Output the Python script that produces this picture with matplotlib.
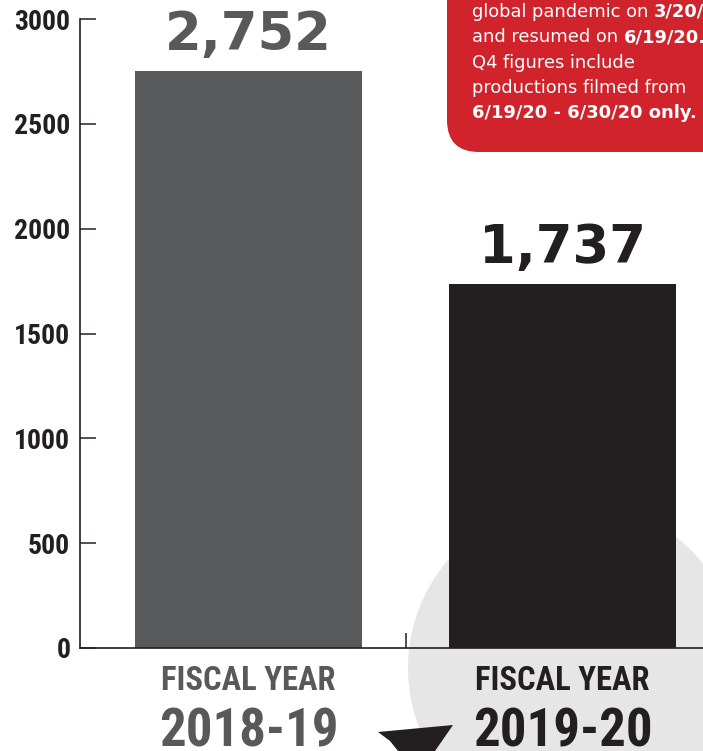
import matplotlib.pyplot as plt
from matplotlib.patches import Circle, FancyBboxPatch, Polygon

# production counts per fiscal year
years = ["2018-19", "2019-20"]
productions = [2752, 1737]
bar_colors = ["#58595b", "#231f20"]
y_ticks = [0, 500, 1000, 1500, 2000, 2500, 3000]

# note in the red box: (text, weight) pieces for each line
note_lines = [
    [("global pandemic on ", "normal"), ("3/20/20", "bold")],
    [("and resumed on ", "normal"), ("6/19/20.", "bold")],
    [("Q4 figures include", "normal")],
    [("productions filmed from", "normal")],
    [("6/19/20 - 6/30/20 only.", "bold")],
]

dark = "#231f20"
narrow = ["Liberation Sans Narrow", "Roboto Condensed", "DejaVu Sans"]

fig = plt.figure(figsize=(7.03, 7.51), dpi=100)

# background layer in pixel units (origin top-left)
bg = fig.add_axes([0, 0, 1, 1], zorder=0)
bg.set_xlim(0, 703)
bg.set_ylim(751, 0)
bg.axis("off")

bg.add_patch(Circle((574, 668), 166, color="#e6e6e6", lw=0))
bg.add_patch(FancyBboxPatch((447, -60), 320, 212,
                            boxstyle="round,pad=0,rounding_size=32",
                            fc="#d0232b", ec="none"))
bg.add_patch(Polygon([(378, 732), (453, 725), (435, 751), (398, 751), (390, 741)],
                     closed=True, fc=dark, ec="none", zorder=3))

# note text, bold parts placed right after the regular parts
renderer = fig.canvas.get_renderer()
for i, line in enumerate(note_lines):
    x = 472
    y = 17 + i * 25.3
    for txt, weight in line:
        t = bg.text(x, y, txt, color="white", fontsize=12.9, fontweight=weight,
                    family="DejaVu Sans", va="baseline", ha="left")
        x = t.get_window_extent(renderer).x1

# main bar chart
ax = fig.add_axes([80 / 703, 103 / 751, 623 / 703, 629 / 751], zorder=1)
ax.patch.set_alpha(0)
x_pos = list(range(len(years)))
ax.bar(x_pos, productions, width=0.723, color=bar_colors, zorder=2)

ax.set_xlim(-0.537, 1.447)
ax.set_ylim(0, 3000)
ax.spines["top"].set_visible(False)
ax.spines["right"].set_visible(False)
for s in ["left", "bottom"]:
    ax.spines[s].set_color(dark)
    ax.spines[s].set_linewidth(1.2)
    ax.spines[s].set_zorder(3)

ax.set_yticks(y_ticks)
ax.set_yticklabels([str(v) for v in y_ticks], family=narrow,
                   fontweight="bold", fontsize=20, color=dark)
ax.tick_params(axis="y", direction="in", length=11.5, width=1.1,
               color=dark, pad=7)
ax.set_xticks([0.5])
ax.set_xticklabels([""])
ax.tick_params(axis="x", direction="in", length=11, width=1.1, color=dark)

# value labels above the bars
for i, v in enumerate(productions):
    ax.annotate(f"{v:,}", (x_pos[i], v), xytext=(0, 15), textcoords="offset points",
                ha="center", va="baseline", fontsize=38, fontweight="bold",
                color=bar_colors[i], family="DejaVu Sans")

# category labels under the axis
tr = ax.get_xaxis_transform()
for i, yr in enumerate(years):
    ax.text(x_pos[i], -0.0668, "FISCAL YEAR", transform=tr, ha="center",
            va="baseline", fontsize=23.5, fontweight="bold", family=narrow,
            color=bar_colors[i])
    ax.text(x_pos[i], -0.1560, yr, transform=tr, ha="center", va="baseline",
            fontsize=38, fontweight="bold", family=narrow, color=bar_colors[i])

plt.savefig("out.png", dpi=100)
